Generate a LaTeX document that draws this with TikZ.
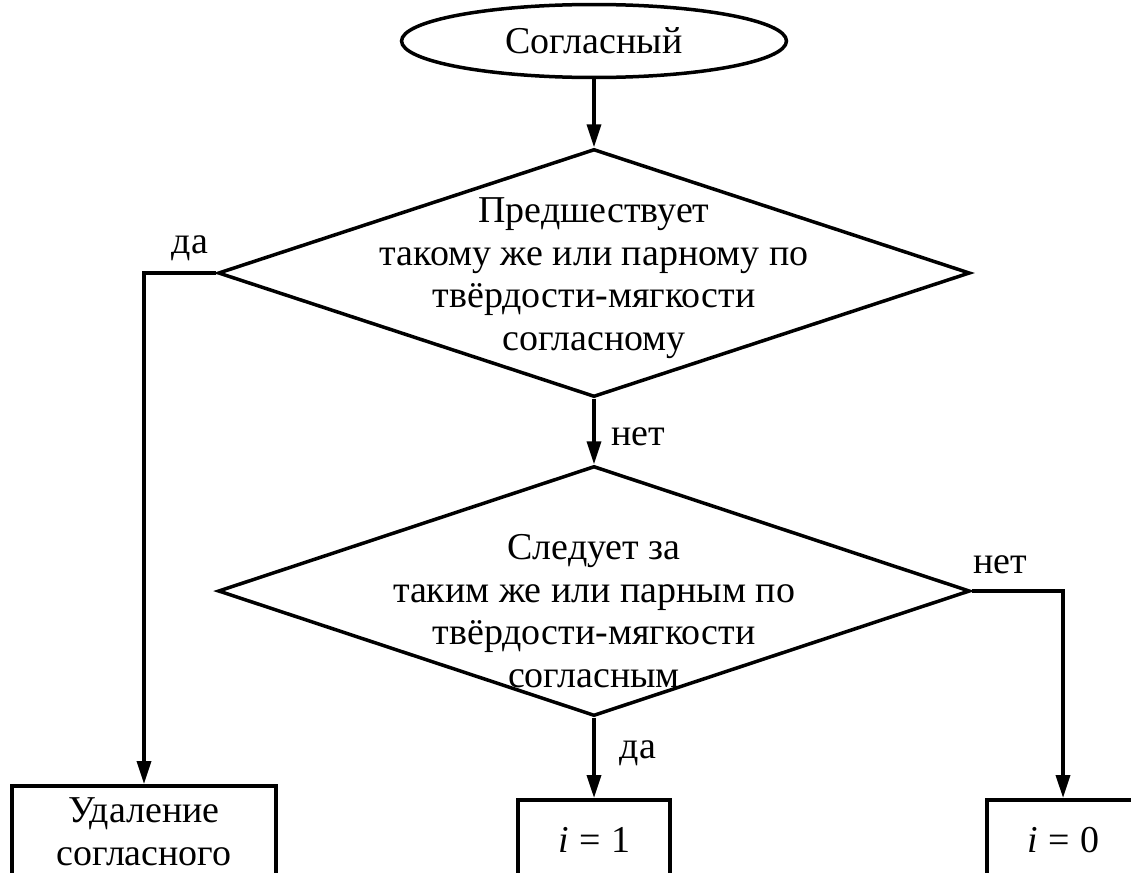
\documentclass[tikz,border=0pt]{standalone}
\usepackage{fontspec}
\setmainfont{Liberation Serif}
\usetikzlibrary{arrows.meta, positioning, shapes.geometric}

\begin{document}
\begin{tikzpicture}[x=0.02cm, y=-0.02cm, line width=0.07cm,
      >={Triangle[length=0.46cm, width=0.28cm]},
      every node/.style={font=\fontsize{21.6}{24.2}\selectfont},
      term/.style={draw, ellipse, minimum width=7.7cm, minimum height=1.46cm, inner sep=0pt},
      decision/.style={draw, diamond, minimum width=15.04cm, inner sep=0pt},
      txt/.style={align=center, inner sep=0pt},
      act/.style={draw, anchor=north, align=center, inner sep=0pt},
      lbl/.style={inner sep=0pt}]

    % Page frame (the bottom boxes run past the lower edge)
    \useasboundingbox (0,0) rectangle (1131,872);
    \clip (0,0) rectangle (1131,872);

    % Start and decisions
    \node[term] (start) at (594,41) {Согласный};
    \node[decision, minimum height=4.96cm] (d1) at (594,273) {};
    \node[decision, minimum height=5.0cm]  (d2) at (594,591) {};

    % Decision texts
    \node[txt] (t1) at (594,278) {Предшествует\\такому же или парному по\\твёрдости-мягкости\\согласному};
    \node[txt] (t2) at (594,611) {Следует за\\таким же или парным по\\твёрдости-мягкости\\согласным};

    % Actions
    \node[act, minimum width=5.28cm, minimum height=1.84cm] (del)  at (144,784)  {Удаление\\согласного};
    \node[act, minimum width=3.04cm, minimum height=1.6cm]  (one)  at (594,798)  {\textit{i}\;=\;1};
    \node[act, minimum width=3.04cm, minimum height=1.6cm]  (zero) at (1063,798) {\textit{i}\;=\;0};

    % Connectors
    \draw[->] (start.south) -- (d1.north);
    \draw[->] (d1.west) -| (del.north);
    \draw[->] (d1.south) -- (d2.north);
    \draw[->] (d2.south) -- (one.north);
    \draw[->] (d2.east) -| (zero.north);

    % Branch labels
    \node[lbl] (yes1) at (190,248)  {да};
    \node[lbl] (no1)  at (638,437)  {нет};
    \node[lbl] (no2)  at (1000,565) {нет};
    \node[lbl] (yes2) at (638,753)  {да};

\end{tikzpicture}
\end{document}
